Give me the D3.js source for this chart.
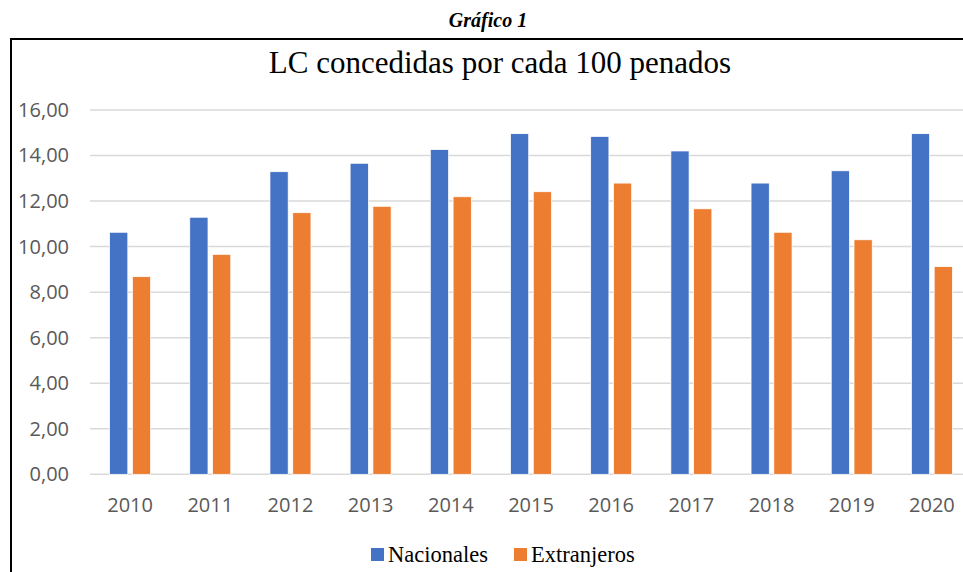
<!DOCTYPE html>
<html lang="es">
<head>
    <meta charset="UTF-8">
    <title>LC concedidas por cada 100 penados</title>
    <style>
        body { margin: 0; background: #fff; }
        .axis .domain { display: none; }
        .axis text { font-family: "Open Sans", "Liberation Sans", sans-serif; fill: #595959; }
    </style>
</head>
<body>
    <svg width="963" height="572"></svg>
    <script src="https://d3js.org/d3.v7.min.js"></script>
    <script>
        var years = ["2010", "2011", "2012", "2013", "2014", "2015", "2016", "2017", "2018", "2019", "2020"];
        var nacionales  = [10.63, 11.29, 13.29, 13.66, 14.26, 14.96, 14.84, 14.20, 12.79, 13.33, 14.96];
        var extranjeros = [8.68, 9.66, 11.49, 11.77, 12.19, 12.41, 12.79, 11.66, 10.63, 10.30, 9.12];
        var series = ["Nacionales", "Extranjeros"];
        var yTicks = [0, 2, 4, 6, 8, 10, 12, 14, 16];

        var data = years.map(function(y, i) {
            return { year: y, Nacionales: nacionales[i], Extranjeros: extranjeros[i] };
        });

        var svg = d3.select("svg");

        // outer frame (right/bottom edges fall outside the picture)
        svg.append("rect")
            .attr("x", 11).attr("y", 39)
            .attr("width", 1000).attr("height", 600)
            .attr("fill", "none")
            .attr("stroke", "#000")
            .attr("stroke-width", 2);

        svg.append("text")
            .attr("x", 488).attr("y", 27)
            .attr("text-anchor", "middle")
            .attr("font-family", "Liberation Serif, serif")
            .attr("font-style", "italic")
            .attr("font-weight", "bold")
            .attr("font-size", 20)
            .text("Gráfico 1");

        svg.append("text")
            .attr("x", 500).attr("y", 73)
            .attr("text-anchor", "middle")
            .attr("font-family", "Liberation Serif, serif")
            .attr("font-size", 31)
            .attr("fill", "#000")
            .text("LC concedidas por cada 100 penados");

        var plotLeft = 90, plotRight = 972, plotTop = 110, plotBottom = 474.3;

        var x0 = d3.scaleBand().domain(years).range([plotLeft, plotRight]).padding(0);
        var groupW = 41;
        var x1 = d3.scaleBand().domain(series)
            .range([(x0.bandwidth() - groupW) / 2, (x0.bandwidth() + groupW) / 2])
            .paddingInner(0.2);
        var y = d3.scaleLinear().domain([0, 16]).range([plotBottom, plotTop]);
        var z = d3.scaleOrdinal().domain(series).range(["#4472C4", "#ED7D31"]);

        // gridlines
        svg.append("g")
            .selectAll("line")
            .data(yTicks)
            .enter().append("line")
            .attr("x1", plotLeft).attr("x2", plotRight)
            .attr("y1", function(d) { return y(d); })
            .attr("y2", function(d) { return y(d); })
            .attr("stroke", "#d9d9d9")
            .attr("stroke-width", 1.5);

        svg.append("g")
            .selectAll("g")
            .data(data)
            .enter().append("g")
                .attr("transform", function(d) { return "translate(" + x0(d.year) + ",0)"; })
            .selectAll("rect")
            .data(function(d) { return series.map(function(k) { return { key: k, value: d[k] }; }); })
            .enter().append("rect")
            .attr("x", function(d) { return x1(d.key); })
            .attr("y", function(d) { return y(d.value); })
            .attr("width", x1.bandwidth())
            .attr("height", function(d) { return y(0) - y(d.value); })
            .attr("fill", function(d) { return z(d.key); })
            .attr("stroke", "#fff")
            .attr("stroke-width", 0.75);

        // y axis labels
        var fmt = function(d) { return d3.format(".2f")(d).replace(".", ","); };
        svg.append("g")
            .attr("class", "axis")
            .attr("transform", "translate(" + (plotLeft - 13) + ",0)")
            .call(d3.axisLeft(y).tickValues(yTicks).tickFormat(fmt).tickSize(0).tickPadding(8))
            .selectAll("text").attr("font-size", 20);

        // x axis labels
        svg.append("g")
            .attr("class", "axis")
            .attr("transform", "translate(0," + plotBottom + ")")
            .call(d3.axisBottom(x0).tickSize(0).tickPadding(24))
            .selectAll("text").attr("font-size", 20);

        // legend
        var legendX = [371, 514];
        var legend = svg.append("g")
            .selectAll("g")
            .data(series)
            .enter().append("g")
            .attr("transform", function(d, i) { return "translate(" + legendX[i] + ",548)"; });

        legend.append("rect")
            .attr("width", 13).attr("height", 13)
            .attr("fill", z);

        legend.append("text")
            .attr("x", 17).attr("y", 14)
            .attr("font-family", "Liberation Serif, serif")
            .attr("font-size", 22.5)
            .attr("fill", "#000")
            .text(function(d) { return d; });
    </script>
</body>
</html>
